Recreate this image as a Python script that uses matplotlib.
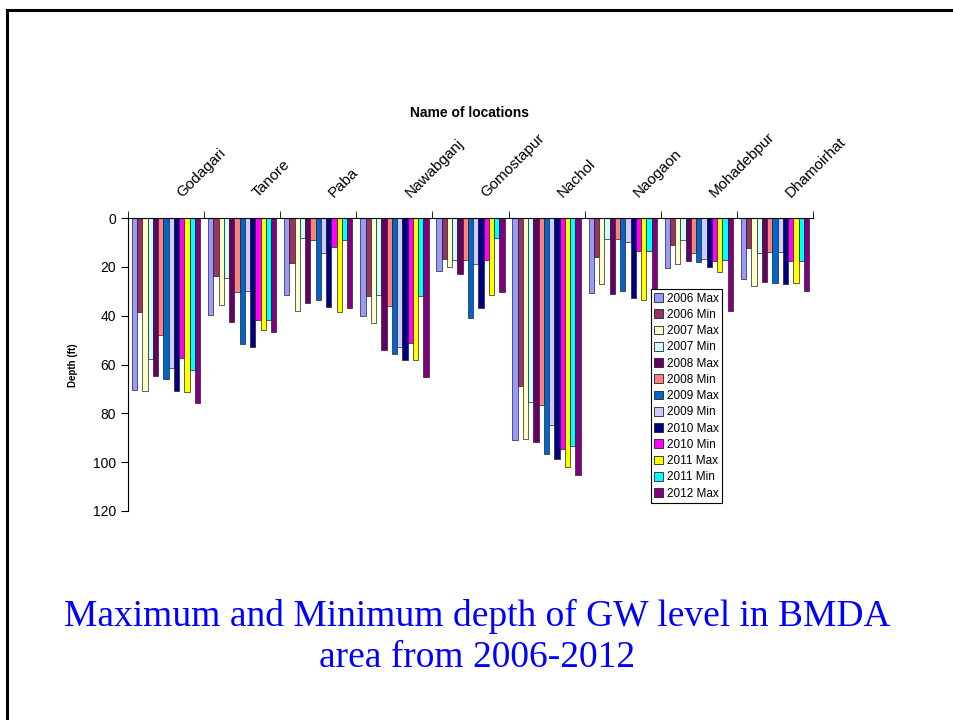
import numpy as np
import matplotlib
matplotlib.use("Agg")
import matplotlib.pyplot as plt
import matplotlib.transforms as mtransforms
from matplotlib.patches import Patch
from matplotlib.lines import Line2D

locations = ['Godagari', 'Tanore', 'Paba', 'Nawabganj', 'Gomostapur',
             'Nachol', 'Naogaon', 'Mohadebpur', 'Dhamoirhat']
series = ['2006 Max', '2006 Min', '2007 Max', '2007 Min', '2008 Max', '2008 Min',
          '2009 Max', '2009 Min', '2010 Max', '2010 Min', '2011 Max', '2011 Min',
          '2012 Max']
colors = ['#9999FF', '#993366', '#FFFFCC', '#CCFFFF', '#660066', '#FF8080',
          '#0066CC', '#CCCCFF', '#000080', '#FF00FF', '#FFFF00', '#00FFFF',
          '#800080']

# depth (ft), one list per location, in series order
godagari = [70.3, 38.6, 71.0, 57.9, 64.6, 48.0, 65.9, 61.4, 70.9, 57.2, 71.4, 62.3, 75.6]
tanore = [39.7, 23.9, 35.6, 24.6, 42.5, 30.3, 51.7, 29.7, 52.7, 41.7, 45.7, 41.7, 46.6]
paba = [31.6, 18.3, 37.9, 8.0, 34.8, 9.0, 33.5, 14.5, 36.3, 11.9, 38.3, 9.2, 37.0]
nawabganj = [40.0, 32.1, 42.8, 31.7, 54.1, 36.1, 55.6, 52.7, 58.2, 51.0, 58.3, 32.1, 65.2]
gomostapur = [21.8, 16.6, 20.0, 17.0, 22.8, 17.2, 40.8, 18.8, 36.7, 17.2, 31.7, 8.0, 30.2]
nachol = [90.8, 69.0, 90.5, 75.3, 91.7, 76.4, 96.6, 84.8, 98.8, 94.6, 102.1, 93.4, 105.4]
naogaon = [30.6, 16.1, 27.2, 8.6, 31.0, 8.6, 29.9, 9.9, 32.8, 13.4, 33.4, 13.4, 36.0]
mohadebpur = [20.3, 10.9, 18.9, 9.0, 17.8, 14.5, 18.2, 16.8, 20.0, 17.5, 22.1, 17.2, 38.2]
dhamoirhat = [25.1, 12.4, 27.9, 14.2, 26.3, 14.1, 26.6, 14.1, 27.2, 17.8, 26.6, 17.7, 29.7]

depths = np.array([godagari, tanore, paba, nawabganj, gomostapur,
                   nachol, naogaon, mohadebpur, dhamoirhat])

fig = plt.figure(figsize=(9.54, 7.2), dpi=100)
W, H = 954, 720
ax = fig.add_axes([128 / W, (H - 511) / H, (813 - 128) / W, (511 - 218) / H])

n = len(series)
bw = 1 / 14.5
x = np.arange(len(locations))
for i in range(n):
    off = (i - (n - 1) / 2) * bw
    ax.bar(x + 0.5 + off, depths[:, i], width=bw, color=colors[i],
           edgecolor='#222222', linewidth=0.5, label=series[i])

ax.set_xlim(0, len(locations))
ax.set_ylim(120, 0)
ax.set_yticks(range(0, 121, 20))
ax.tick_params(axis='y', labelsize=10, length=5, direction='out')
for lbl in ax.get_yticklabels():
    lbl.set_fontfamily('Liberation Sans')

ax.xaxis.tick_top()
ax.set_xticks(np.arange(len(locations) + 1), minor=True)
ax.set_xticks(x + 0.5)
ax.set_xticklabels(locations, rotation=45, ha='left', va='bottom',
                   rotation_mode='anchor', fontsize=11, family='Liberation Sans')
ax.tick_params(axis='x', which='major', length=0, pad=13)
ax.tick_params(axis='x', which='minor', length=5, direction='out')
shift = mtransforms.ScaledTranslation(18 / 100, 0, fig.dpi_scale_trans)
for lbl in ax.get_xticklabels():
    lbl.set_transform(lbl.get_transform() + shift)

ax.spines['right'].set_visible(False)
ax.spines['bottom'].set_visible(False)

fig.text(470 / W, 1 - 113 / H, 'Name of locations', ha='center', va='center',
         fontsize=10, fontweight='bold', family='Liberation Sans')
fig.text(73 / W, 1 - 365 / H, 'Depth (ft)', ha='center', va='center', rotation=90,
         fontsize=7, fontweight='bold', family='Liberation Sans')

handles = [Patch(facecolor=c, edgecolor='#222222', linewidth=0.6) for c in colors]
leg = ax.legend(handles, series, loc='lower left', bbox_to_anchor=(0.763, 0.027),
                prop={'family': 'Liberation Sans', 'size': 8.5},
                frameon=True, fancybox=False, edgecolor='black', framealpha=1,
                handlelength=0.75, handleheight=0.75, handletextpad=0.3,
                labelspacing=0.36, borderpad=0.3, borderaxespad=0)
leg.get_frame().set_linewidth(0.8)

fig.text(0.5, 1 - 616 / H, 'Maximum and Minimum depth of GW level in BMDA',
         ha='center', va='center', fontsize=27, color='#0000FF', family='Liberation Serif')
fig.text(0.5, 1 - 658 / H, 'area from 2006-2012',
         ha='center', va='center', fontsize=27, color='#0000FF', family='Liberation Serif')

# slide border
fig.add_artist(Line2D([7 / W, 1], [1 - 10 / H, 1 - 10 / H], color='black', lw=2.2))
fig.add_artist(Line2D([7 / W, 7 / W], [0, 1 - 10 / H], color='black', lw=2.2))

fig.savefig('out.png', dpi=100)
